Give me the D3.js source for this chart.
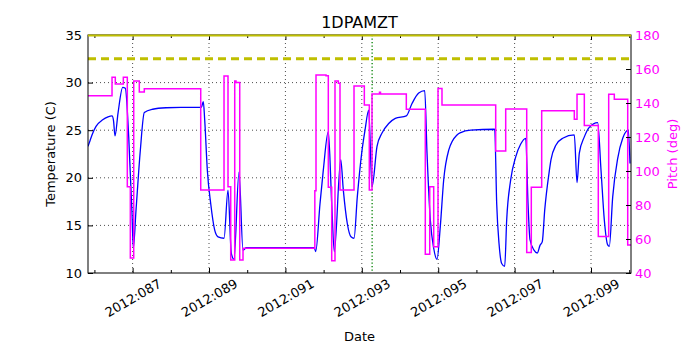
<!DOCTYPE html>
<html lang="en">
<head>
    <meta charset="UTF-8">
    <title>1DPAMZT</title>
    <script src="https://d3js.org/d3.v7.min.js"></script>
    <style>
        body {
            margin: 0;
            background-color: #ffffff;
        }
        svg text {
            font-family: "DejaVu Sans", sans-serif;
        }
        .grid line {
            stroke: #000;
            stroke-width: 0.7;
            stroke-dasharray: 1,3;
        }
    </style>
</head>
<body>
    <div id="chart"></div>

    <script>
        // temperature trace (day of year 2012, deg C)
        const tempDays = [85.832, 85.885, 85.937, 86.042, 86.217, 86.356, 86.461, 86.500, 86.539, 86.618,
            86.741, 86.809, 86.898, 86.984, 87.018, 87.089, 87.202, 87.306, 87.526, 87.874,
            88.267, 88.798, 88.851, 88.887, 88.956, 89.044, 89.149, 89.236, 89.393, 89.497,
            89.584, 89.654, 89.785, 89.890, 89.976, 91.757, 91.793, 91.906, 91.992, 92.123,
            92.212, 92.280, 92.448, 92.516, 92.620, 92.717, 92.796, 92.882, 92.997, 93.084,
            93.181, 93.267, 93.398, 93.529, 93.704, 93.877, 94.165, 94.314, 94.490, 94.647,
            94.707, 94.793, 94.882, 94.969, 95.055, 95.144, 95.275, 95.492, 95.589, 95.851,
            96.479, 96.531, 96.592, 96.662, 96.741, 96.793, 96.898, 97.029, 97.160, 97.291,
            97.351, 97.403, 97.508, 97.594, 97.665, 97.725, 97.788, 97.901, 97.953, 98.084,
            98.259, 98.563, 98.634, 98.694, 98.825, 98.955, 99.175, 99.262, 99.348, 99.437,
            99.479, 99.568, 99.699, 99.830, 99.976, 100.021];
        const tempVals = [23.3, 23.9, 24.5, 25.4, 26.1, 26.4, 26.5, 26.0, 24.4, 26.8,
            29.5, 29.4, 24.3, 16.3, 12.6, 16.6, 22.9, 26.85, 27.2, 27.36,
            27.4, 27.4, 28.0, 26.1, 20.8, 17.3, 14.5, 13.8, 13.65, 18.7,
            12.07, 11.44, 20.6, 12.4, 12.65, 12.65, 12.24, 17.3, 20.8, 24.85,
            17.3, 12.24, 21.9, 18.7, 15.2, 13.8, 13.65, 18.0, 22.6, 25.0,
            27.1, 19.06, 23.3, 24.7, 25.7, 26.25, 26.5, 27.8, 28.9, 29.15,
            22.6, 15.6, 12.6, 11.44, 14.9, 19.8, 22.9, 24.5, 24.75, 25.0,
            25.1, 17.3, 13.1, 11.0, 10.7, 15.6, 19.8, 22.2, 23.55, 24.15,
            17.3, 13.5, 12.4, 12.1, 12.9, 13.3, 16.6, 20.5, 21.9, 23.45,
            24.15, 24.5, 19.5, 22.6, 24.3, 25.3, 25.8, 20.8, 15.6, 12.95,
            12.8, 18.0, 22.05, 24.15, 25.0, 21.5];

        // pitch trace, each value holds until the next day
        const pitchDays = [85.832, 86.461, 86.547, 86.757, 86.861, 86.940, 87.029, 87.175, 87.306, 88.783,
            89.393, 89.497, 89.568, 89.673, 89.707, 89.804, 89.890, 91.770, 91.801, 92.063,
            92.123, 92.212, 92.298, 92.385, 92.429, 92.796, 93.066, 93.196, 93.267, 93.463,
            93.489, 94.165, 94.662, 94.778, 94.882, 94.995, 95.099, 96.505, 96.767, 97.317,
            97.437, 97.709, 98.563, 98.634, 98.825, 99.191, 99.463, 99.610, 99.961, 100.047];
        const pitchVals = [144.3, 155.1, 151.2, 155.1, 90.8, 48.8, 153.0, 146.5, 148.4, 88.8,
            155.9, 90.8, 47.6, 153.0, 152.0, 47.6, 54.5, 88.4, 156.5, 156.0,
            90.4, 47.2, 153.0, 151.6, 88.8, 150.0, 138.8, 88.8, 145.3, 146.3,
            145.3, 136.3, 51.0, 90.8, 55.5, 148.6, 138.8, 111.8, 136.5, 52.0,
            90.4, 135.5, 130.4, 145.1, 126.7, 61.4, 145.1, 142.2, 56.5, 56.5];

        const dayDomain = [85.832, 100.047];
        const tempDomain = [10, 35];
        const pitchDomain = [40, 180];
        const tempTicks = [10, 15, 20, 25, 30, 35];
        const pitchTicks = [40, 60, 80, 100, 120, 140, 160, 180];
        const majorDays = [87, 89, 91, 93, 95, 97, 99];
        const minorDays = [86, 88, 90, 92, 94, 96, 98, 100];
        const planningLimit = 35;
        const yellowLimit = 32.5;
        const markerDay = 93.27;

        const width = 700;
        const height = 350;
        const margin = { top: 35, right: 69, bottom: 77, left: 88 };
        const innerW = width - margin.left - margin.right;
        const innerH = height - margin.top - margin.bottom;

        const svg = d3.select('#chart').append('svg')
            .attr('width', width)
            .attr('height', height);

        svg.append('defs').append('clipPath')
            .attr('id', 'plotClip')
            .append('rect')
            .attr('width', innerW)
            .attr('height', innerH);

        const g = svg.append('g')
            .attr('transform', `translate(${margin.left},${margin.top})`);

        const x = d3.scaleLinear().domain(dayDomain).range([0, innerW]);
        const yT = d3.scaleLinear().domain(tempDomain).range([innerH, 0]);
        const yP = d3.scaleLinear().domain(pitchDomain).range([innerH, 0]);

        // dotted grid
        const grid = g.append('g').attr('class', 'grid');
        grid.selectAll('.vg')
            .data(majorDays)
            .join('line')
            .attr('x1', d => x(d)).attr('x2', d => x(d))
            .attr('y1', 0).attr('y2', innerH);
        grid.selectAll('.hg')
            .data(tempTicks.filter(t => t > tempDomain[0] && t < tempDomain[1]))
            .join('line')
            .attr('class', 'hg')
            .attr('x1', 0).attr('x2', innerW)
            .attr('y1', d => yT(d)).attr('y2', d => yT(d));

        const plot = g.append('g').attr('clip-path', 'url(#plotClip)');

        const tempData = tempDays.map((d, i) => [d, tempVals[i]]);
        const pitchData = pitchDays.map((d, i) => [d, pitchVals[i]]);

        plot.append('path')
            .datum(tempData)
            .attr('fill', 'none')
            .attr('stroke', '#0000ff')
            .attr('stroke-width', 1.3)
            .attr('d', d3.line()
                .x(d => x(d[0]))
                .y(d => yT(d[1]))
                .curve(d3.curveMonotoneX));

        plot.append('line')
            .attr('x1', 0).attr('x2', innerW)
            .attr('y1', yT(yellowLimit)).attr('y2', yT(yellowLimit))
            .attr('stroke', '#bfbf00')
            .attr('stroke-width', 3)
            .attr('stroke-dasharray', '8,5');

        plot.append('line')
            .attr('x1', x(markerDay)).attr('x2', x(markerDay))
            .attr('y1', 0).attr('y2', innerH)
            .attr('stroke', '#008000')
            .attr('stroke-width', 1.3)
            .attr('stroke-dasharray', '1.3,2.2');

        plot.append('path')
            .datum(pitchData)
            .attr('fill', 'none')
            .attr('stroke', '#ff00ff')
            .attr('stroke-width', 1.5)
            .attr('d', d3.line()
                .x(d => x(d[0]))
                .y(d => yP(d[1]))
                .curve(d3.curveStepAfter));

        // axes, ticks pointing inward
        const fmtDay = d3.format('03d');

        const xAxis = g.append('g')
            .attr('transform', `translate(0,${innerH})`)
            .call(d3.axisBottom(x).tickValues(majorDays).tickSize(-5)
                .tickFormat(d => '2012:' + fmtDay(d)));
        xAxis.selectAll('text')
            .attr('y', null)
            .attr('dy', null)
            .attr('fill', '#000')
            .attr('font-size', 13)
            .attr('text-anchor', 'middle')
            .attr('dominant-baseline', 'central')
            .attr('transform', 'translate(0,25) rotate(-30)');

        g.append('g')
            .attr('transform', `translate(0,${innerH})`)
            .call(d3.axisBottom(x).tickValues(minorDays.filter(d => d < dayDomain[1])).tickSize(-3).tickFormat(''));

        g.append('g')
            .call(d3.axisTop(x).tickValues(majorDays).tickSize(-5).tickFormat(''));
        g.append('g')
            .call(d3.axisTop(x).tickValues(minorDays.filter(d => d < dayDomain[1])).tickSize(-3).tickFormat(''));

        const yAxisL = g.append('g')
            .call(d3.axisLeft(yT).tickValues(tempTicks).tickSize(-5).tickPadding(6));
        yAxisL.selectAll('text').attr('font-size', 13).attr('fill', '#000');

        const yAxisR = g.append('g')
            .attr('transform', `translate(${innerW},0)`)
            .call(d3.axisRight(yP).tickValues(pitchTicks).tickSize(-5).tickPadding(4));
        yAxisR.selectAll('text').attr('font-size', 13).attr('fill', '#ff00ff');

        g.selectAll('.domain').remove();
        g.selectAll('.tick line').attr('stroke', '#000');

        g.append('rect')
            .attr('width', innerW)
            .attr('height', innerH)
            .attr('fill', 'none')
            .attr('stroke', '#000')
            .attr('stroke-width', 1);

        g.append('line')
            .attr('x1', 0).attr('x2', innerW)
            .attr('y1', yT(planningLimit) + 0.5).attr('y2', yT(planningLimit) + 0.5)
            .attr('stroke', '#bfbf00')
            .attr('stroke-width', 2);

        // labels
        svg.append('text')
            .attr('x', margin.left + innerW / 2)
            .attr('y', 28)
            .attr('text-anchor', 'middle')
            .attr('font-size', 16)
            .text('1DPAMZT');

        svg.append('text')
            .attr('x', margin.left + innerW / 2)
            .attr('y', 341)
            .attr('text-anchor', 'middle')
            .attr('font-size', 13)
            .text('Date');

        svg.append('text')
            .attr('transform', `translate(50,${margin.top + innerH / 2}) rotate(-90)`)
            .attr('text-anchor', 'middle')
            .attr('dominant-baseline', 'central')
            .attr('font-size', 13)
            .text('Temperature (C)');

        svg.append('text')
            .attr('transform', `translate(672,${margin.top + innerH / 2}) rotate(-90)`)
            .attr('text-anchor', 'middle')
            .attr('dominant-baseline', 'central')
            .attr('font-size', 13)
            .attr('fill', '#ff00ff')
            .text('Pitch (deg)');
    </script>
</body>
</html>
